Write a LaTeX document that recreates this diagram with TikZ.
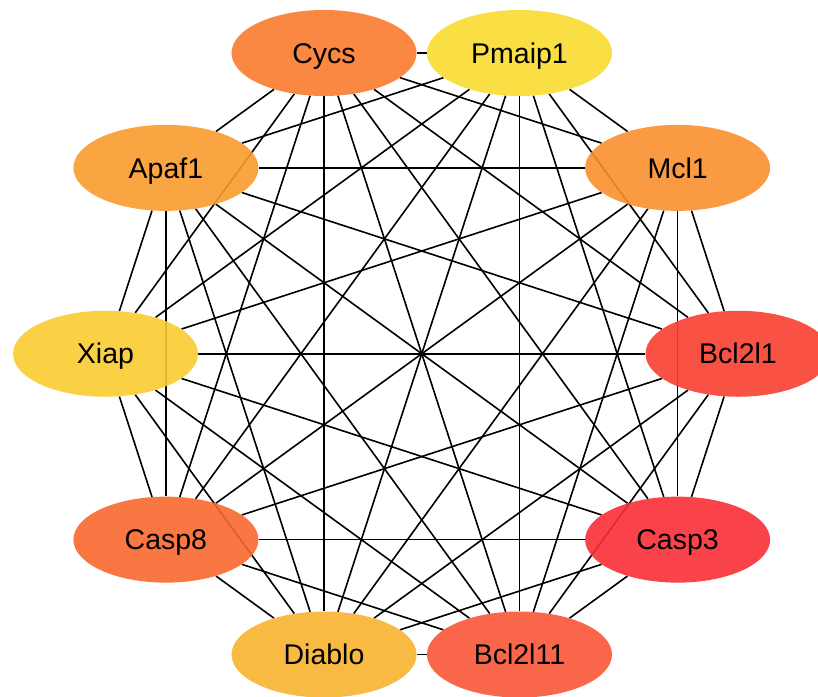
\documentclass[tikz,border=0pt]{standalone}
\usepackage{fontspec}
\setmainfont{Liberation Sans}
\usetikzlibrary{shapes.geometric,calc}
\pgfdeclarelayer{bg}
\pgfsetlayers{bg,main}
\definecolor{cBcl}{HTML}{F83E30}
\definecolor{cMcl}{HTML}{F98F2F}
\definecolor{cPma}{HTML}{F8DB30}
\definecolor{cCyc}{HTML}{FA7A2D}
\definecolor{cApa}{HTML}{F89C2D}
\definecolor{cXia}{HTML}{F9CC30}
\definecolor{cCa8}{HTML}{F8682E}
\definecolor{cDia}{HTML}{F8B32F}
\definecolor{cB11}{HTML}{F85536}
\definecolor{cCa3}{HTML}{F82D35}
\tikzset{
  gene/.style={ellipse, minimum width=185pt, minimum height=86pt, inner sep=0pt,
    text height=20.4pt, text depth=0pt,
    fill=#1, fill opacity=0.9, text opacity=1, font=\fontsize{28.5}{30}\selectfont},
  edge/.style={black, line width=1.6pt}
}
\begin{document}
\begin{tikzpicture}[x=1pt,y=-1pt]
\useasboundingbox (0,0) rectangle (818,696);
\coordinate (c) at (421.75,353.75);
\foreach \i/\name/\col in {0/Bcl2l1/cBcl,1/Mcl1/cMcl,2/Pmaip1/cPma,3/Cycs/cCyc,4/Apaf1/cApa,5/Xiap/cXia,6/Casp8/cCa8,7/Diablo/cDia,8/Bcl2l11/cB11,9/Casp3/cCa3}{
  \node[gene=\col] (n\i) at ($(c)+({316.25*cos(36*\i)},{-316.25*sin(36*\i)})$) {\name};
}
\begin{pgfonlayer}{bg}
\foreach \i in {0,...,8}{
  \pgfmathtruncatemacro{\s}{\i+1}
  \foreach \j in {\s,...,9}{
    \draw[edge] (n\i) -- (n\j);
  }
}
\end{pgfonlayer}
\end{tikzpicture}
\end{document}
